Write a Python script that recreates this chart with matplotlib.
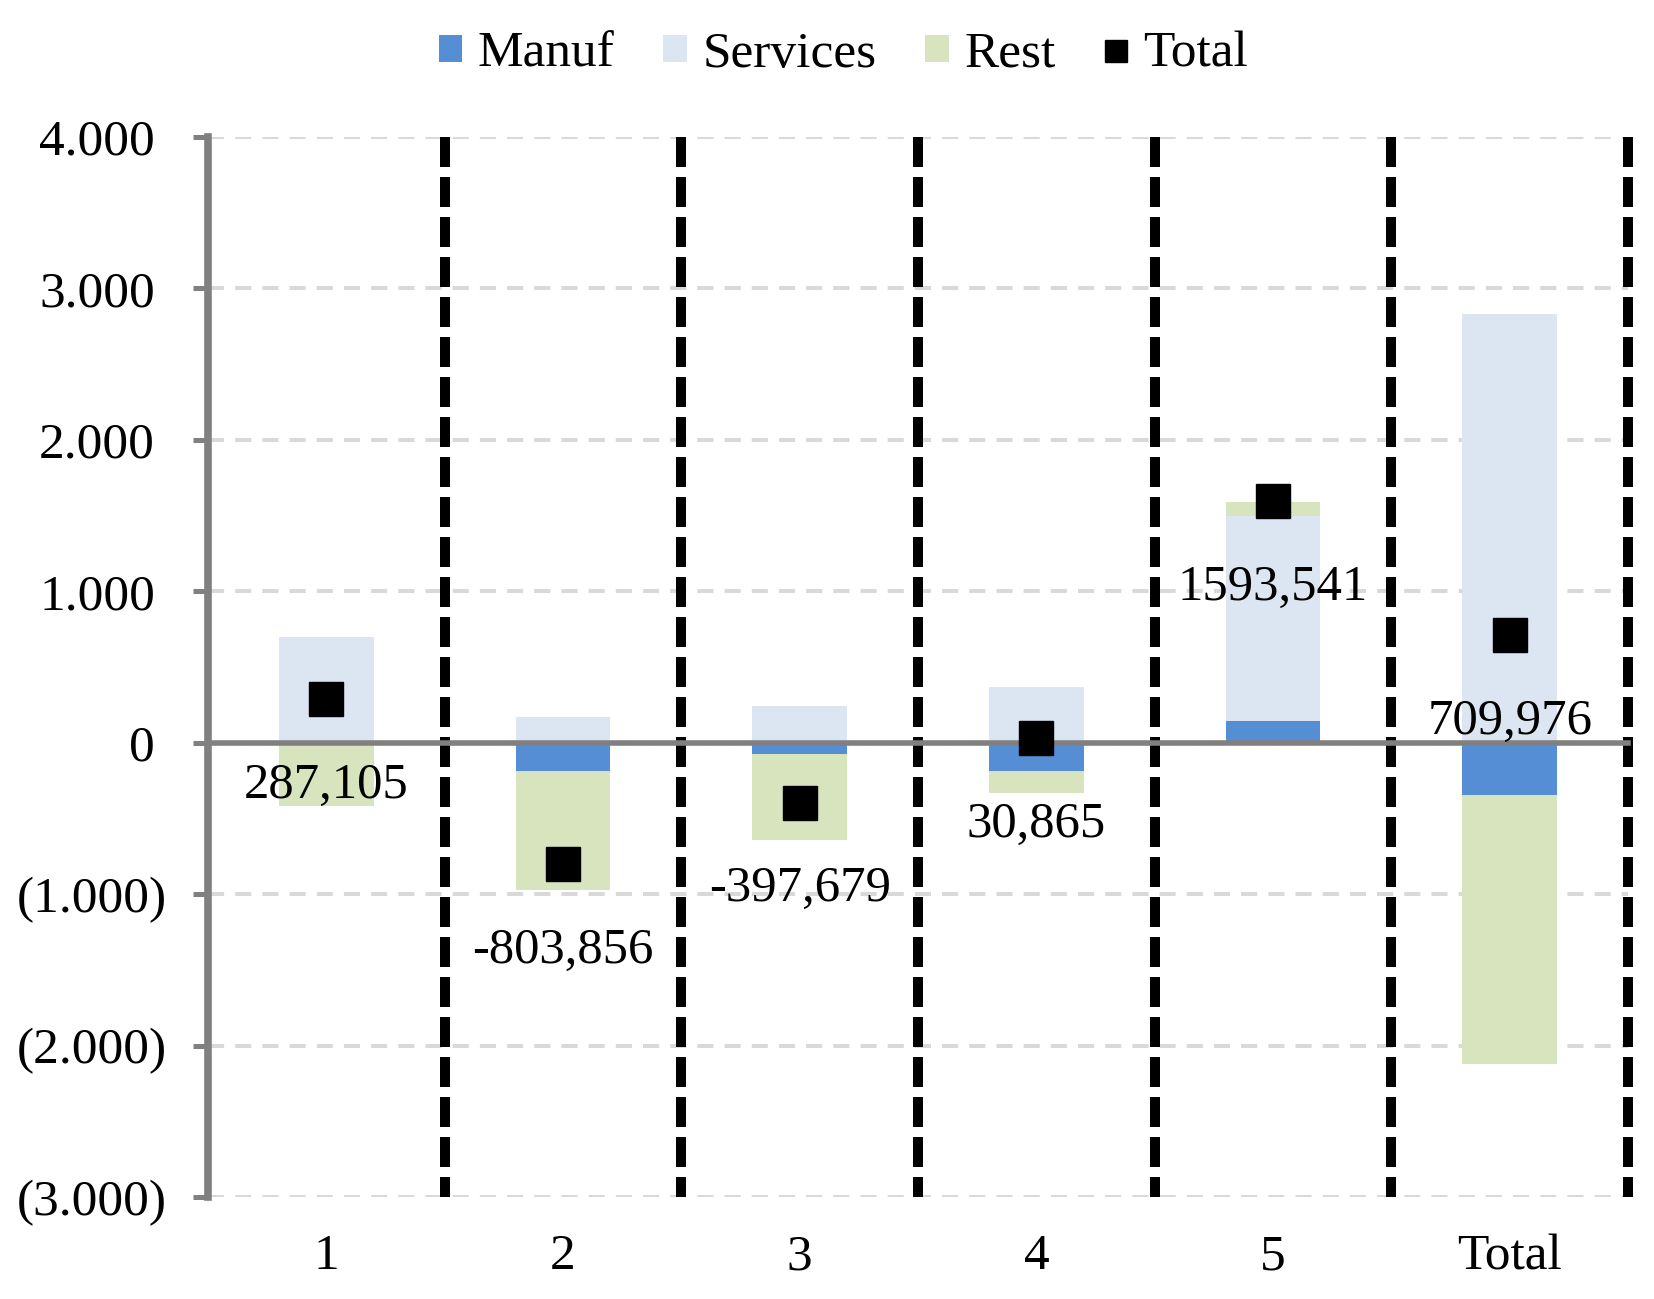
import matplotlib.pyplot as plt
from matplotlib.ticker import FuncFormatter
from matplotlib.transforms import ScaledTranslation
import numpy as np

plt.rcParams['font.family'] = ['Liberation Serif', 'DejaVu Serif']

# dados
categorias = ['1', '2', '3', '4', '5', 'Total']
manuf = [-10, -188, -76, -188, 146, -347]
services = [701, 167, 243, 368, 1354, 2833]
rest = [-405, -783, -565, -146, 93, -1773]
total = [287.105, -803.856, -397.679, 30.865, 1593.541, 709.976]
yticks = [-3000, -2000, -1000, 0, 1000, 2000, 3000, 4000]

cor_manuf = '#558ED5'
cor_services = '#DCE6F2'
cor_rest = '#D7E4BD'

fig = plt.figure(figsize=(16.54, 12.99), dpi=100)
ax = fig.add_axes([0.1258, 0.0785, 0.8585, 0.816])

x = np.arange(1, len(categorias) + 1)
largura = 0.4

# empilhamento separado para positivos e negativos
pos_base = np.zeros(len(x))
neg_base = np.zeros(len(x))
for nome, valores, cor in [('Manuf', manuf, cor_manuf), ('Services', services, cor_services), ('Rest', rest, cor_rest)]:
    valores = np.array(valores, dtype=float)
    base = np.where(valores >= 0, pos_base, neg_base)
    ax.bar(x, valores, largura, bottom=base, color=cor, label=nome, zorder=2)
    pos_base = pos_base + np.where(valores >= 0, valores, 0)
    neg_base = neg_base + np.where(valores < 0, valores, 0)

ax.plot(x, total, 's', color='black', markersize=25, linestyle='none', label='Total', zorder=4)
for xi, t in zip(x, total):
    ax.annotate(f'{t:.3f}'.replace('.', ','), (xi, t), textcoords='offset points', xytext=(0, -62),
                ha='center', va='center', fontsize=36.5, zorder=5)

# linhas verticais tracejadas entre categorias (de cima para baixo)
for b in x + 0.5:
    ax.axvline(b, ymin=1, ymax=0, color='black', lw=7.2, linestyle=(0, (3, 1)), zorder=3, clip_on=False)

ax.axhline(0, color='#808080', lw=4, zorder=3, clip_on=False)

ax.set_xlim(0.5, len(x) + 0.5)
ax.set_ylim(-3000, 4000)
ax.set_yticks(yticks)
ax.yaxis.set_major_formatter(FuncFormatter(
    lambda v, p: '0' if v == 0 else (f'{v:,.0f}'.replace(',', '.') if v > 0 else '(' + f'{-v:,.0f}'.replace(',', '.') + ')')))
ax.grid(axis='y', color='#D9D9D9', lw=2.9, linestyle=(0, (4, 2.75)), zorder=0)

ax.set_xticks(x)
ax.set_xticklabels(categorias)
ax.tick_params(axis='x', length=0, pad=26.5, labelsize=37)
ax.tick_params(axis='y', length=10.5, width=3.6, color='#808080', pad=19, labelsize=37)

# numeros positivos deslocados pela largura do ")" como no Excel
desloc = ScaledTranslation(-8.7 / 72, 0, fig.dpi_scale_trans)
for v, tick in zip(yticks, ax.yaxis.get_major_ticks()):
    if v >= 0:
        tick.label1.set_transform(tick.label1.get_transform() + desloc)

for s in ['top', 'right', 'bottom']:
    ax.spines[s].set_visible(False)
ax.spines['left'].set_color('#808080')
ax.spines['left'].set_linewidth(5.5)

# ticks pequenos no eixo zero
sec = ax.secondary_xaxis(3 / 7)
sec.set_xticks(x + 0.5)
sec.set_xticklabels([])
sec.tick_params(length=9, width=5, color='#808080', direction='out')
sec.spines['bottom'].set_visible(False)

handles, labels = ax.get_legend_handles_labels()
ordem = [labels.index(n) for n in ['Manuf', 'Services', 'Rest', 'Total']]
fig.legend([handles[i] for i in ordem], [labels[i] for i in ordem], loc='center', bbox_to_anchor=(0.51, 0.958),
           ncol=4, frameon=False, fontsize=37, handlelength=0.46, handleheight=0.46, handletextpad=0.3,
           columnspacing=0.95, markerscale=0.66)

fig.savefig('out.png', dpi=100)
